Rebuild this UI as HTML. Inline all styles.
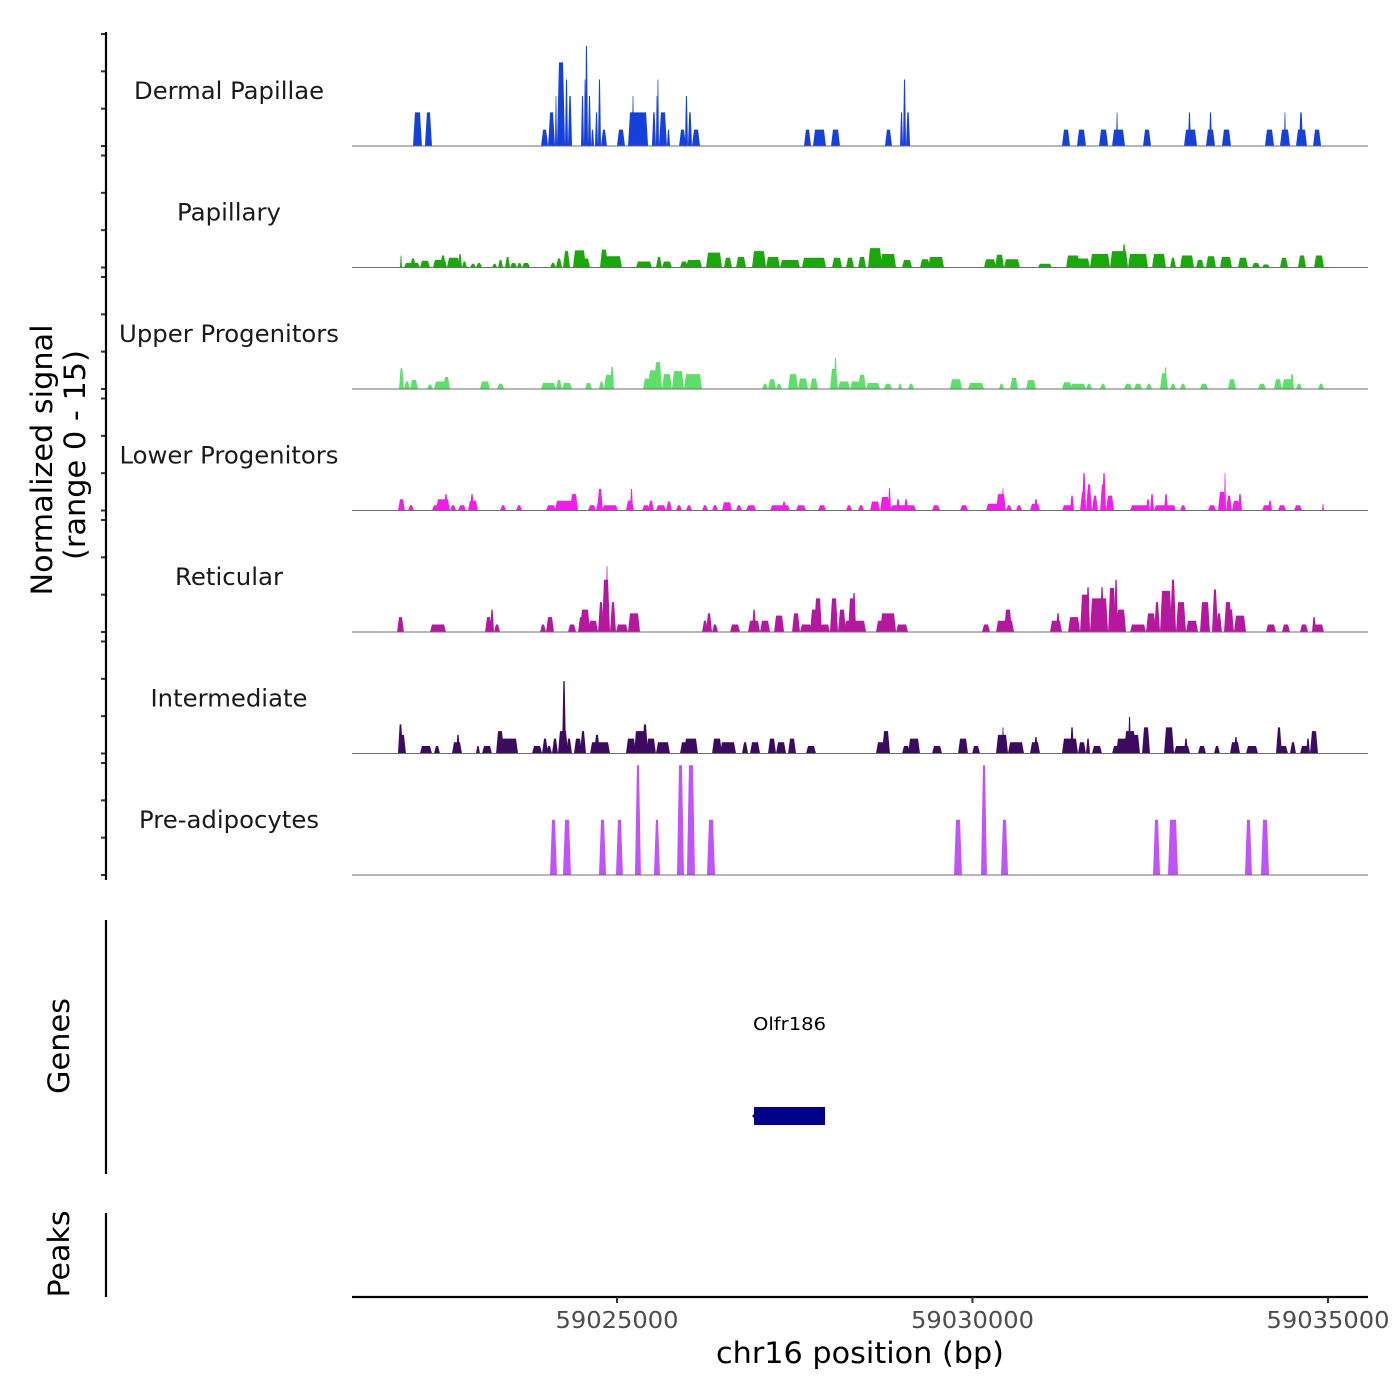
<!DOCTYPE html>
<html><head><meta charset="utf-8">
<style>
html,body{margin:0;padding:0;background:#fff;}
svg{display:block;font-family:"DejaVu Sans","Liberation Sans",sans-serif;}
</style></head>
<body>
<svg id="chart" width="1400" height="1400" viewBox="0 0 1400 1400">
  <g id="tracks"></g>
  <g id="axes"></g>
</svg>
<script>
// ---------- data ----------
const trackNames = ["Dermal Papillae","Papillary","Upper Progenitors","Lower Progenitors","Reticular","Intermediate","Pre-adipocytes"];
const trackLabelWidths = [190,104,220,219,108,157,180];
const trackColors = ["#1540da","#1aa90a","#5ddf6a","#f01ee8","#b5179e","#3c0a5e","#c054f8"];
const xTicks = [59025000,59030000,59035000];
const xTickLabels = ["59025000","59030000","59035000"];
const yTicks = [0,5,10,15];
const geneName = "Olfr186";
const geneStart = 59026927;
const geneEnd = 59027926;

// segments per track: [start, end, value]
const dermalPapillae = [[59022131,59022257,4.5],[59022299,59022398,4.5],[59023932,59024031,2.2],[59024031,59024128,4.5],[59024128,59024156,6.7],[59024156,59024269,11.2],[59024269,59024311,8.9],[59024311,59024368,6.7],[59024494,59024536,6.7],[59024536,59024564,8.9],[59024550,59024592,13.4],[59024592,59024635,6.7],[59024635,59024677,2.2],[59024691,59024733,4.5],[59024733,59024775,8.9],[59024775,59024859,2.2],[59025000,59025112,2.2],[59025155,59025437,4.5],[59025211,59025239,6.7],[59025492,59025548,4.5],[59025548,59025576,6.7],[59025562,59025590,8.9],[59025590,59025703,4.5],[59025703,59025746,2.2],[59025873,59025970,2.2],[59025956,59025998,6.7],[59025998,59026055,4.5],[59026055,59026168,2.2],[59027630,59027729,2.2],[59027757,59027939,2.2],[59028010,59028137,2.2],[59028769,59028868,2.2],[59028981,59029023,4.5],[59029023,59029065,8.9],[59029065,59029122,4.5],[59031259,59031372,2.2],[59031470,59031596,2.2],[59031780,59031907,2.2],[59031963,59032145,2.2],[59032019,59032047,4.5],[59032399,59032511,2.2],[59032975,59033158,2.2],[59033031,59033073,4.5],[59033284,59033411,2.2],[59033327,59033369,4.5],[59033509,59033636,2.2],[59034114,59034241,2.2],[59034325,59034466,2.2],[59034381,59034409,4.5],[59034550,59034705,2.2],[59034592,59034649,4.5],[59034790,59034903,2.2]];
const papillary = [[59021948,59021976,1.6],[59022004,59022229,0.6],[59022089,59022173,1.2],[59022229,59022370,0.9],[59022412,59022609,1.0],[59022511,59022595,1.6],[59022609,59022792,1.3],[59022764,59022820,1.8],[59022820,59022890,0.8],[59022933,59023017,0.5],[59023017,59023102,0.6],[59023243,59023313,0.5],[59023327,59023397,1.0],[59023425,59023496,1.4],[59023496,59023594,0.6],[59023594,59023664,0.6],[59023664,59023777,0.6],[59024058,59024142,0.6],[59024142,59024227,1.2],[59024241,59024339,2.2],[59024381,59024564,2.3],[59024508,59024621,1.2],[59024761,59024874,2.4],[59024817,59025070,1.5],[59025267,59025492,0.8],[59025548,59025633,1.4],[59025633,59025773,0.8],[59025886,59025998,0.8],[59025970,59026196,1.0],[59026252,59026477,2.0],[59026505,59026618,1.3],[59026674,59026815,1.4],[59026899,59027096,2.2],[59027096,59027293,1.4],[59027293,59027574,1.0],[59027602,59027940,1.3],[59028024,59028165,1.3],[59028221,59028334,1.3],[59028390,59028503,1.4],[59028531,59028728,2.6],[59028700,59028925,1.8],[59029009,59029150,1.0],[59029262,59029403,1.1],[59029375,59029600,1.4],[59030162,59030331,1.1],[59030317,59030443,1.7],[59030443,59030668,1.1],[59030921,59031118,0.5],[59031316,59031513,1.6],[59031400,59031653,1.2],[59031653,59031935,1.8],[59031935,59032188,2.2],[59032104,59032160,3.1],[59032188,59032469,1.8],[59032525,59032722,1.8],[59032778,59032862,1.3],[59032919,59033116,1.6],[59033144,59033256,1.0],[59033284,59033425,1.5],[59033481,59033650,1.4],[59033734,59033875,1.3],[59033931,59034044,0.6],[59034072,59034185,0.4],[59034325,59034438,1.3],[59034578,59034691,1.6],[59034804,59034944,1.6]];
const upperProgenitors = [[59021934,59022004,2.8],[59022004,59022089,1.0],[59022089,59022201,1.2],[59022328,59022412,0.6],[59022426,59022609,1.0],[59022553,59022651,1.6],[59023073,59023214,1.0],[59023313,59023411,0.7],[59023932,59024142,0.8],[59024142,59024227,1.2],[59024227,59024367,0.8],[59024550,59024649,0.8],[59024747,59024817,1.0],[59024817,59024958,1.9],[59024902,59024958,3.0],[59025365,59025492,1.4],[59025436,59025633,2.5],[59025520,59025633,3.6],[59025633,59025773,2.0],[59025773,59025942,2.4],[59025942,59026196,2.0],[59027040,59027124,0.7],[59027124,59027237,1.3],[59027237,59027321,0.7],[59027406,59027546,2.0],[59027546,59027687,1.4],[59027715,59027827,1.4],[59027996,59028109,2.7],[59028052,59028095,4.2],[59028109,59028278,1.0],[59028278,59028446,1.0],[59028390,59028503,1.9],[59028503,59028700,0.8],[59028756,59028868,0.7],[59028953,59029009,0.7],[59029094,59029178,0.7],[59029684,59029853,1.3],[59029937,59030162,0.8],[59030373,59030443,0.7],[59030528,59030640,1.5],[59030753,59030893,1.2],[59031259,59031400,0.9],[59031372,59031597,0.7],[59031597,59031681,0.7],[59031794,59031878,0.7],[59032132,59032244,0.7],[59032272,59032385,0.7],[59032441,59032525,0.7],[59032638,59032750,2.1],[59032694,59032737,2.9],[59032779,59032863,0.7],[59032919,59033003,0.7],[59033200,59033313,0.7],[59033594,59033706,1.3],[59034016,59034128,0.7],[59034241,59034353,1.3],[59034353,59034522,1.3],[59034466,59034522,2.0],[59034550,59034635,0.7],[59034860,59034944,0.7]];
const lowerProgenitors = [[59021920,59022018,1.5],[59022061,59022145,0.7],[59022398,59022511,0.7],[59022454,59022651,1.5],[59022567,59022623,2.2],[59022651,59022736,0.7],[59022764,59022877,0.7],[59022904,59023045,1.3],[59022933,59022989,2.2],[59023355,59023439,0.7],[59023580,59023664,0.7],[59024002,59024142,0.7],[59024128,59024424,1.3],[59024339,59024452,2.2],[59024592,59024705,0.7],[59024705,59024789,1.3],[59024719,59024803,2.9],[59024789,59025014,0.7],[59025126,59025239,1.3],[59025183,59025225,2.9],[59025352,59025464,0.7],[59025436,59025520,1.3],[59025548,59025689,0.7],[59025689,59025773,1.2],[59025829,59025914,0.7],[59025970,59026055,0.7],[59026196,59026280,0.7],[59026337,59026421,0.7],[59026477,59026618,1.1],[59026674,59026759,0.7],[59026815,59026956,0.7],[59027153,59027434,0.7],[59027321,59027378,1.2],[59027518,59027659,0.7],[59027827,59027940,0.7],[59028221,59028306,0.7],[59028390,59028474,0.7],[59028559,59028700,1.2],[59028700,59028840,1.8],[59028812,59028854,3.0],[59028840,59029206,0.7],[59028925,59028981,1.5],[59029037,59029094,1.5],[59029431,59029543,0.7],[59029825,59029937,0.7],[59030190,59030387,0.9],[59030331,59030471,2.2],[59030415,59030443,3.0],[59030471,59030556,0.7],[59030612,59030697,0.7],[59030809,59030950,0.9],[59030865,59030921,1.5],[59031259,59031428,0.7],[59031372,59031428,2.0],[59031513,59031597,2.5],[59031541,59031597,5.0],[59031597,59031681,3.5],[59031681,59031766,2.0],[59031794,59031878,3.5],[59031822,59031878,5.0],[59031878,59031991,2.0],[59032216,59032497,0.7],[59032441,59032497,1.5],[59032497,59032553,2.2],[59032553,59032863,0.7],[59032694,59032750,2.2],[59032919,59033003,0.7],[59033313,59033425,0.7],[59033453,59033566,2.5],[59033538,59033566,5.0],[59033566,59033650,2.0],[59033650,59033763,1.3],[59033734,59033791,2.2],[59034072,59034213,0.7],[59034157,59034213,1.3],[59034297,59034410,0.7],[59034522,59034635,0.7],[59034916,59034944,0.9]];
const reticular = [[59021906,59022004,2.0],[59022370,59022595,1.0],[59023144,59023242,2.0],[59023214,59023270,3.0],[59023270,59023355,1.0],[59023918,59024002,1.0],[59024002,59024114,2.0],[59024311,59024424,1.0],[59024452,59024536,2.0],[59024480,59024621,3.0],[59024592,59024733,1.5],[59024733,59024817,4.0],[59024789,59024902,7.0],[59024845,59024874,8.8],[59024902,59024986,4.0],[59024986,59025155,1.0],[59025155,59025324,2.5],[59026196,59026280,1.5],[59026252,59026337,2.5],[59026337,59026421,1.0],[59026590,59026731,1.0],[59026843,59027012,1.5],[59026899,59026956,3.0],[59027012,59027153,1.5],[59027209,59027350,2.2],[59027462,59027574,2.5],[59027574,59027743,1.0],[59027715,59027856,3.0],[59027771,59027884,4.5],[59027856,59027996,1.0],[59027996,59028109,4.5],[59028109,59028221,3.0],[59028193,59028503,1.5],[59028249,59028362,4.5],[59028306,59028362,5.2],[59028643,59028756,1.5],[59028700,59028925,2.5],[59028925,59029094,1.0],[59030134,59030246,1.0],[59030331,59030584,1.5],[59030443,59030556,3.0],[59031090,59031259,1.5],[59031175,59031231,2.5],[59031344,59031513,2.0],[59031513,59031653,5.0],[59031597,59031653,6.0],[59031653,59031907,4.5],[59031794,59031850,6.0],[59031907,59032019,5.9],[59031991,59032047,7.0],[59032019,59032160,3.0],[59032216,59032441,1.0],[59032441,59032581,2.5],[59032553,59032638,4.0],[59032638,59032807,5.5],[59032779,59032863,7.0],[59032863,59033003,4.0],[59033003,59033172,1.5],[59033200,59033341,4.0],[59033369,59033453,5.7],[59033425,59033509,2.5],[59033538,59033650,4.0],[59033594,59033678,3.0],[59033678,59033847,2.2],[59034128,59034269,1.0],[59034353,59034466,1.0],[59034607,59034719,1.0],[59034776,59034832,2.0],[59034776,59034944,1.0]];
const intermediate = [[59021920,59021990,3.9],[59021948,59022032,2.5],[59022229,59022398,1.0],[59022426,59022511,1.0],[59022679,59022820,1.5],[59022736,59022792,2.5],[59023017,59023073,1.0],[59023102,59023242,1.0],[59023299,59023411,3.0],[59023355,59023608,2.0],[59023805,59023946,1.0],[59023946,59024030,2.0],[59024002,59024086,1.0],[59024086,59024170,2.0],[59024170,59024311,3.0],[59024227,59024283,9.7],[59024283,59024367,2.0],[59024395,59024508,2.0],[59024480,59024564,3.0],[59024621,59024902,1.5],[59024677,59024761,2.5],[59025126,59025267,2.0],[59025239,59025408,3.0],[59025352,59025436,3.9],[59025408,59025548,2.0],[59025548,59025745,1.5],[59025886,59026027,1.5],[59025942,59026139,2.0],[59026337,59026477,2.0],[59026449,59026674,1.5],[59026759,59026843,1.5],[59026871,59027012,1.5],[59027124,59027237,2.0],[59027237,59027378,1.5],[59027406,59027518,2.0],[59027659,59027799,1.0],[59028643,59028812,1.5],[59028728,59028840,3.0],[59029009,59029122,1.0],[59029094,59029262,2.0],[59029431,59029572,1.0],[59029797,59029937,2.0],[59029994,59030106,1.0],[59030331,59030500,2.5],[59030415,59030443,3.5],[59030500,59030725,1.5],[59030809,59030950,1.5],[59030865,59030921,2.2],[59031259,59031484,2.0],[59031372,59031428,3.5],[59031484,59031597,1.5],[59031597,59031653,2.0],[59031681,59031822,1.0],[59031963,59032075,1.0],[59032019,59032244,2.0],[59032132,59032300,3.0],[59032188,59032230,4.9],[59032216,59032357,2.5],[59032385,59032497,3.5],[59032694,59032835,3.5],[59032835,59033060,1.0],[59032975,59033031,2.0],[59033172,59033284,1.0],[59033397,59033481,1.0],[59033622,59033763,1.5],[59033678,59033734,2.2],[59033847,59034016,1.0],[59034269,59034353,3.5],[59034297,59034438,1.0],[59034466,59034550,1.5],[59034607,59034747,1.0],[59034691,59034747,2.0],[59034747,59034860,3.0]];
const preAdipocytes = [[59024058,59024156,7.4],[59024241,59024353,7.4],[59024747,59024846,7.4],[59024986,59025084,7.4],[59025253,59025337,14.7],[59025520,59025605,7.4],[59025844,59025942,14.7],[59025984,59026097,14.7],[59026266,59026379,7.4],[59029740,59029853,7.4],[59030120,59030204,14.7],[59030401,59030500,7.4],[59032539,59032638,7.4],[59032750,59032891,7.4],[59033833,59033931,7.4],[59034058,59034171,7.4]];

const trackData = [dermalPapillae,papillary,upperProgenitors,lowerProgenitors,reticular,intermediate,preAdipocytes];

// ---------- scales ----------
const X0 = 352, X1 = 1368, D0 = 59021273, D1 = 59035563;
function xs(bp){ return X0 + (bp - D0) / (D1 - D0) * (X1 - X0); }
const firstBase = 146, trackStep = 121.5, pxPerUnit = 112/15;
function ys(track, v){ return firstBase + track*trackStep - v*pxPerUnit; }

const NS = "http://www.w3.org/2000/svg";
function mk(tag, attrs, parent){
  const e = document.createElementNS(NS, tag);
  for (const k in attrs) e.setAttribute(k, attrs[k]);
  parent.appendChild(e);
  return e;
}
const tracksG = document.getElementById('tracks');
const axesG = document.getElementById('axes');

trackData.forEach((segs, t) => {
  const g = mk('g', {}, tracksG);
  
  
  const base = ys(t, 0);
  segs.forEach(s => {
    const a = xs(s[0]), b = xs(s[1]), top = ys(t, s[2]);
    const sl = Math.min(2, (b - a) / 3);
    const p = mk('polygon', {points: `${a},${base} ${a+sl},${top} ${b-sl},${top} ${b},${base}`, fill: trackColors[t]}, g);
    
    
  });
  const bl = mk('line', {x1: X0, x2: X1, y1: base, y2: base, stroke: '#6e6e6e', 'stroke-width': 1}, g);
  
  
  const lab = mk('text', {x: 229, y: base - 47, 'text-anchor': 'middle', 'font-size': 24, fill: '#1a1a1a', textLength: trackLabelWidths[t], lengthAdjust: 'spacingAndGlyphs'}, g);
  lab.textContent = trackNames[t];
  
  
  yTicks.forEach(v => {
    const y = ys(t, v);
    const tk = mk('line', {x1: 101, x2: 106, y1: y, y2: y, stroke: '#333', 'stroke-width': 2}, axesG);
    
    
  });
});

// left axes
function vline(y1, y2, name){
  const l = mk('line', {x1: 106, x2: 106, y1: y1, y2: y2, stroke: '#000', 'stroke-width': 2.2}, axesG);
  
  
}
vline(32, 880, 'signal-y-axis');
vline(920, 1174, 'genes-y-axis');
vline(1213, 1297, 'peaks-y-axis');

function rtext(x, y, txt, size, len, name){
  const e = mk('text', {x: x, y: y, 'text-anchor': 'middle', 'font-size': size, fill: '#000', transform: `rotate(-90 ${x} ${y})`, textLength: len, lengthAdjust: 'spacingAndGlyphs'}, axesG);
  e.textContent = txt;
  
  
}
rtext(52, 460, 'Normalized signal', 29, 271, 'y-axis-title');
rtext(85, 455, '(range 0 - 15)', 29, 210, 'y-axis-subtitle');
rtext(69, 1046, 'Genes', 29, 96, 'genes-axis-title');
rtext(69, 1254, 'Peaks', 29, 87, 'peaks-axis-title');

// gene
const gg = mk('g', {}, tracksG);


const gx0 = xs(geneStart), gx1 = xs(geneEnd);
mk('rect', {x: gx0, y: 1107, width: gx1 - gx0, height: 18, fill: '#00008b'}, gg);
mk('polygon', {points: `${gx0-2},1116 ${gx0+3},1111 ${gx0+3},1121`, fill: '#00008b'}, gg);
const gt = mk('text', {x: (gx0+gx1)/2, y: 1030, 'text-anchor': 'middle', 'font-size': 18, fill: '#000', textLength: 73, lengthAdjust: 'spacingAndGlyphs'}, gg);
gt.textContent = geneName;



// x axis
const xa = mk('line', {x1: X0, x2: X1, y1: 1297, y2: 1297, stroke: '#000', 'stroke-width': 2.2}, axesG);


xTicks.forEach((v, i) => {
  const x = xs(v);
  const t = mk('line', {x1: x, x2: x, y1: 1297, y2: 1303, stroke: '#333', 'stroke-width': 2}, axesG);
  
  
  const l = mk('text', {x: x, y: 1328, 'text-anchor': 'middle', 'font-size': 23, fill: '#4d4d4d', textLength: 123, lengthAdjust: 'spacingAndGlyphs'}, axesG);
  l.textContent = xTickLabels[i];
  
  
});
const xt = mk('text', {x: 860, y: 1363, 'text-anchor': 'middle', 'font-size': 29, fill: '#000', textLength: 288, lengthAdjust: 'spacingAndGlyphs'}, axesG);
xt.textContent = 'chr16 position (bp)';


</script>
</body></html>
